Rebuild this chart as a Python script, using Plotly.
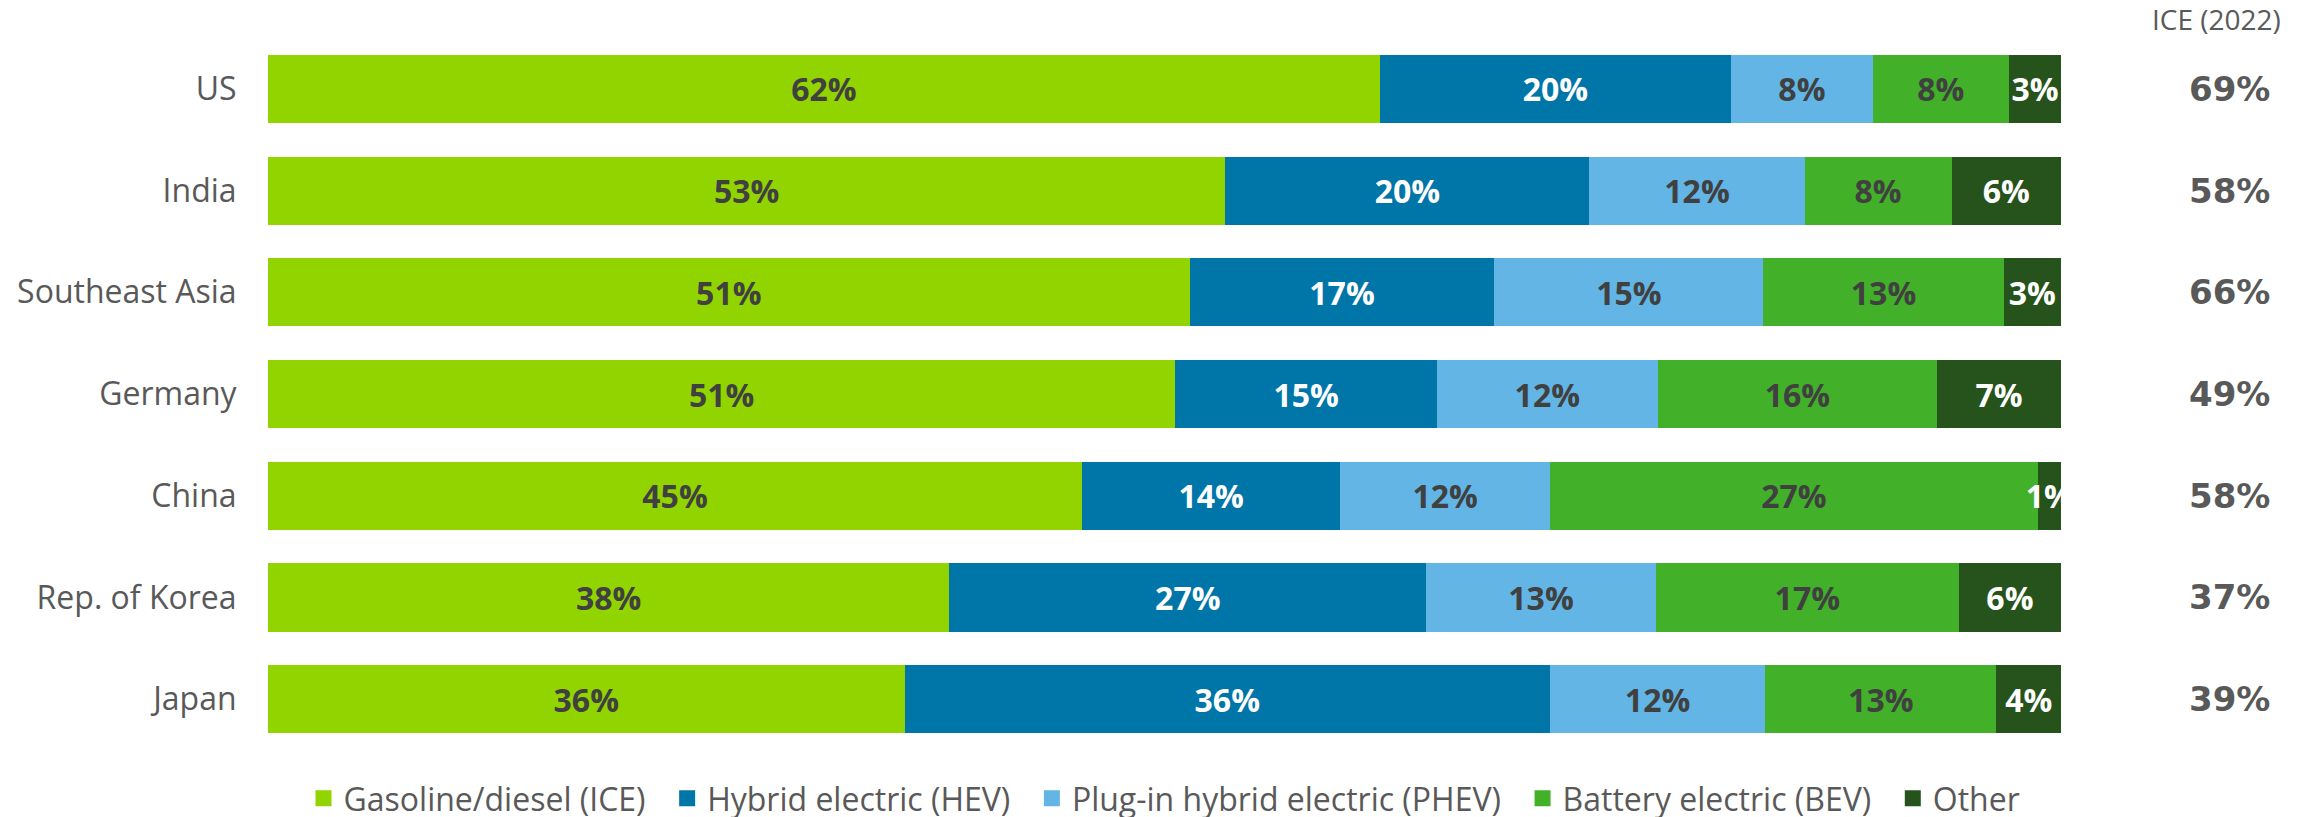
import plotly.graph_objects as go

# powertrain preference shares (%); rows sum to ~100
countries = ["US", "India", "Southeast Asia", "Germany", "China", "Rep. of Korea", "Japan"]
ice = [62.0, 53.4, 51.4, 50.6, 45.4, 38.0, 35.5]
hev = [19.6, 20.3, 17.0, 14.6, 14.4, 26.6, 36.0]
phev = [7.9, 12.0, 15.0, 12.3, 11.7, 12.8, 12.0]
bev = [7.6, 8.2, 13.4, 15.6, 27.2, 16.9, 12.9]
other = [2.9, 6.1, 3.2, 6.9, 1.3, 5.7, 3.6]
ice_2022 = [69, 58, 66, 49, 58, 37, 39]

series = [
    ("Gasoline/diesel (ICE)", ice, "#92D400", "#404040"),
    ("Hybrid electric (HEV)", hev, "#0076A8", "#FFFFFF"),
    ("Plug-in hybrid electric (PHEV)", phev, "#62B5E5", "#404040"),
    ("Battery electric (BEV)", bev, "#43B02A", "#404040"),
    ("Other", other, "#26521B", "#FFFFFF"),
]

GRAY = "#595959"
PAD = "\u00a0\u00a0"  # a little extra room between legend entries

fig = go.Figure()
for i, (name, vals, color, txt) in enumerate(series):
    fig.add_trace(go.Bar(
        y=countries, x=vals, name=name, orientation="h",
        marker=dict(color=color, line=dict(width=0)),
        texttemplate="%{x:.0f}%", textposition="inside",
        insidetextanchor="middle", textangle=0,
        textfont=dict(family="Open Sans", size=32, color=txt, weight=700),
        showlegend=False,
    ))
    # bigger square legend markers than the bar default
    label = name + (PAD if i < len(series) - 1 else "")
    fig.add_trace(go.Scatter(
        x=[None], y=[None], mode="markers", name=label,
        marker=dict(symbol="square", size=20, color=color),
    ))

for c, v in zip(countries, ice_2022):
    fig.add_annotation(
        x=1.0937, xref="paper", y=c, yref="y", text=f"{v}%",
        showarrow=False, xanchor="center",
        font=dict(family="DejaVu Sans", size=34, color=GRAY, weight=700),
    )
fig.add_annotation(
    x=1.0865, xref="paper", y=1.026, yref="paper", text="ICE (2022)",
    showarrow=False, xanchor="center", yanchor="middle",
    font=dict(family="Open Sans", size=28, color=GRAY),
)

# page body has an 8px margin, so the figure is 8px smaller than the window
fig.update_layout(
    width=2299, height=809,
    barmode="stack", bargap=0.33,
    plot_bgcolor="white", paper_bgcolor="white",
    margin=dict(l=260, r=246, t=30, b=67, autoexpand=False),
    uniformtext=dict(minsize=32, mode="show"),
    xaxis=dict(range=[0, 100], visible=False, fixedrange=True),
    yaxis=dict(
        autorange="reversed", showgrid=False, zeroline=False, showline=False,
        automargin=False,
        ticks="outside", ticklen=24, tickcolor="rgba(0,0,0,0)",
        tickfont=dict(family="Open Sans", size=32, color=GRAY),
    ),
    legend=dict(
        orientation="h", traceorder="normal",
        x=0.5, xanchor="center", y=-0.068, yanchor="middle",
        font=dict(family="Open Sans", size=32, color=GRAY),
    ),
)

fig.write_html("out.html")
